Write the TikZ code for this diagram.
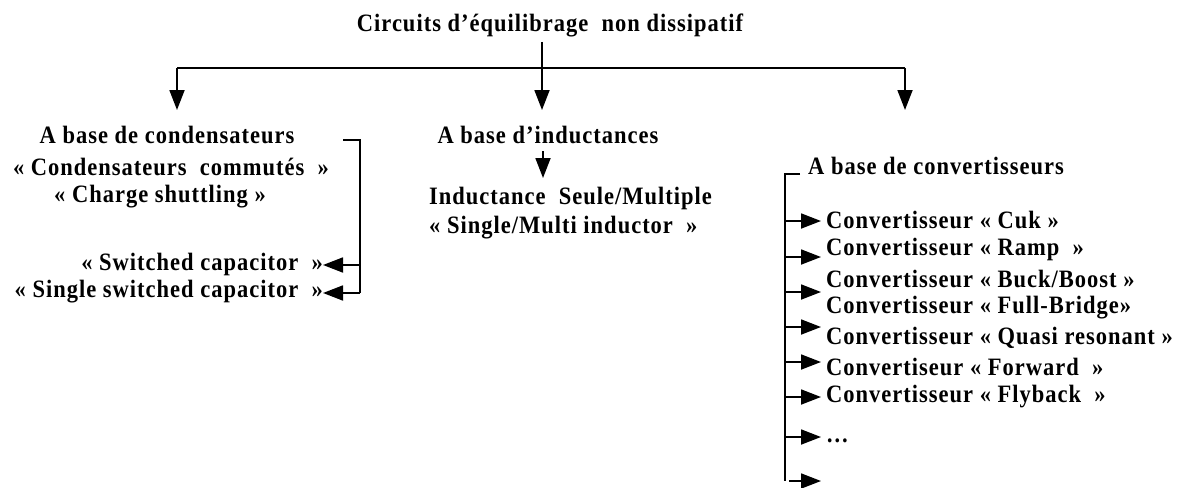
\documentclass[tikz,border=0pt]{standalone}
\usepackage{fontspec}
\setmainfont{Liberation Serif}
\newfontfamily\lblfont[LetterSpace=4,FakeStretch=0.9]{Liberation Serif}
\usetikzlibrary{arrows.meta}
\tikzset{
  lbl/.style={font=\lblfont\fontsize{25}{29}\selectfont\bfseries, inner sep=0pt, text=black},
  conn/.style={line width=1.8pt, draw=black},
  arr/.style={conn, -{Triangle[length=20pt,width=15pt]}},
}
\begin{document}
\begin{tikzpicture}[x=1pt,y=-1pt]
\useasboundingbox (0,0) rectangle (1204,487);
% title
\node[lbl] (title) at (550,25) {Circuits d’équilibrage\ \ non dissipatif};
\coordinate (tdown) at (542,42);
\coordinate (hl) at (177,68);
\coordinate (hm) at (542,68);
\coordinate (hr) at (905,68);
\coordinate (tl) at (177,110);
\coordinate (tm) at (542,110);
\coordinate (tr) at (905,110);
\draw[conn] (hl) -- (hr);
\draw[arr] (tdown) -- (tm);
\draw[arr] (hl) -- (tl);
\draw[arr] (hr) -- (tr);
% condensateurs
\node[lbl] (c1) at (167,135) {A base de condensateurs};
\node[lbl] (c2) at (171,167) {« Condensateurs\ \ commutés\ \ »};
\node[lbl] (c3) at (160,197) {« Charge\ shuttling »};
\node[lbl, anchor=east] (sw) at (323,264) {« Switched\ capacitor\ \ »};
\node[lbl, anchor=east] (ssw) at (323,292) {« Single switched\ capacitor\ \ »};
\coordinate (cs0) at (343,140);
\coordinate (cs1) at (360,140);
\coordinate (cv1) at (360,265);
\coordinate (cv2) at (360,293);
\draw[conn] (cs0) -- (cs1) -- (cv2);
\draw[arr] (cv1) -- (sw.east |- cv1);
\draw[arr] (cv2) -- (ssw.east |- cv2);
% inductances
\node[lbl] (i1) at (548,135) {A base d’inductances};
\node[lbl, anchor=west] (i2) at (429,198) {Inductance\ \ Seule/Multiple};
\node[lbl, anchor=west] (i3) at (429,228) {« Single/Multi inductor\ \ »};
\coordinate (ia) at (543,151);
\coordinate (ib) at (543,178);
\draw[arr] (ia) -- (ib);
% convertisseurs
\node[lbl, anchor=west] (v0) at (808,166) {A base de convertisseurs};
\coordinate (vs0) at (785,174);
\coordinate (vs1) at (800,174);
\coordinate (vend) at (785,481);
\draw[conn] (vs1) -- (vs0) -- (vend);
\foreach \n/\y/\t in {1/220/{Convertisseur « Cuk »},
                     2/249/{Convertisseur « Ramp\ \ »},
                     3/279/{Convertisseur « Buck/Boost »},
                     4/308/{Convertisseur « Full-Bridge»},
                     5/338/{Convertisseur « Quasi resonant »},
                     6/367/{Convertiseur « Forward\ \ »},
                     7/397/{Convertisseur « Flyback\ \ »}}
  \node[lbl, anchor=west] (v\n) at (826,\y) {\t};
\node[lbl, anchor=base west] (v8) at (826,442) {…};
\foreach \n/\y in {1/221,2/257,3/292,4/327,5/362,7/397,8/437}
{
  \coordinate (a\n) at (785,\y);
  \coordinate (b\n) at (821,\y);
  \draw[arr] (a\n) -- (b\n);
}
\coordinate (a9) at (789,481);
\coordinate (b9) at (821,481);
\draw[arr] (a9) -- (b9);
\end{tikzpicture}
\end{document}
